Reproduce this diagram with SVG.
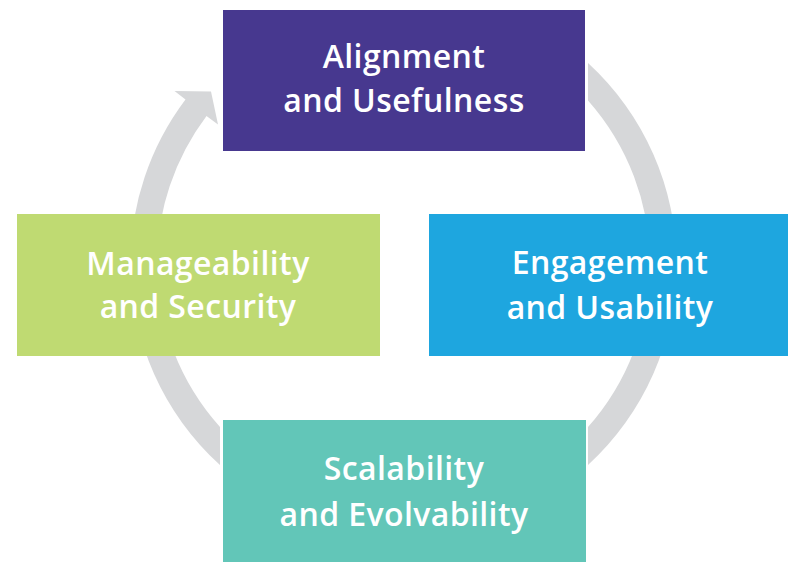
<svg xmlns="http://www.w3.org/2000/svg" width="788" height="562" viewBox="0 0 788 562">
<style>
.ring{fill:#d6d7d9}
.lbl{fill:#ffffff;font-family:"Open Sans",Lato,"Liberation Sans",sans-serif;font-weight:600;font-size:32px;letter-spacing:0.4px;text-anchor:middle}
</style>
<rect width="788" height="562" fill="#ffffff"/>
<g id="connectors">
<path class="ring" d="M 588,63 A 273 273 0 0 1 676.5,264 L 650,264 A 246.5 246.5 0 0 0 588,100.5 Z"/>
<path class="ring" d="M 676.5,264 A 273 273 0 0 1 588,465 L 588,427 A 246.5 246.5 0 0 0 650,264 Z"/>
<path class="ring" d="M 220,465 A 273 273 0 0 1 130.5,264 L 157,264 A 246.5 246.5 0 0 0 220,427 Z"/>
<path class="ring" d="M 130.5,264 A 273 273 0 0 1 185.5,99.5 L 174.5,91 L 211,91.5 L 218,124.5 L 206.5,116 A 246.5 246.5 0 0 0 157,264 Z"/>
</g>
<g id="alignment">
<rect x="223" y="10" width="362" height="141" fill="#47388f"/>
<text class="lbl" x="404" y="68">Alignment</text>
<text class="lbl" x="404" y="112">and Usefulness</text>
</g>
<g id="engagement">
<rect x="429" y="214" width="359" height="142" fill="#1ea6df"/>
<text class="lbl" x="610" y="274">Engagement</text>
<text class="lbl" x="610" y="319">and Usability</text>
</g>
<g id="scalability">
<rect x="223" y="420" width="363" height="142" fill="#62c6b8"/>
<text class="lbl" x="404" y="480">Scalability</text>
<text class="lbl" x="404" y="526">and Evolvability</text>
</g>
<g id="manageability">
<rect x="17" y="214" width="363" height="142" fill="#bfda72"/>
<text class="lbl" x="198" y="275">Manageability</text>
<text class="lbl" x="198" y="318">and Security</text>
</g>
</svg>
